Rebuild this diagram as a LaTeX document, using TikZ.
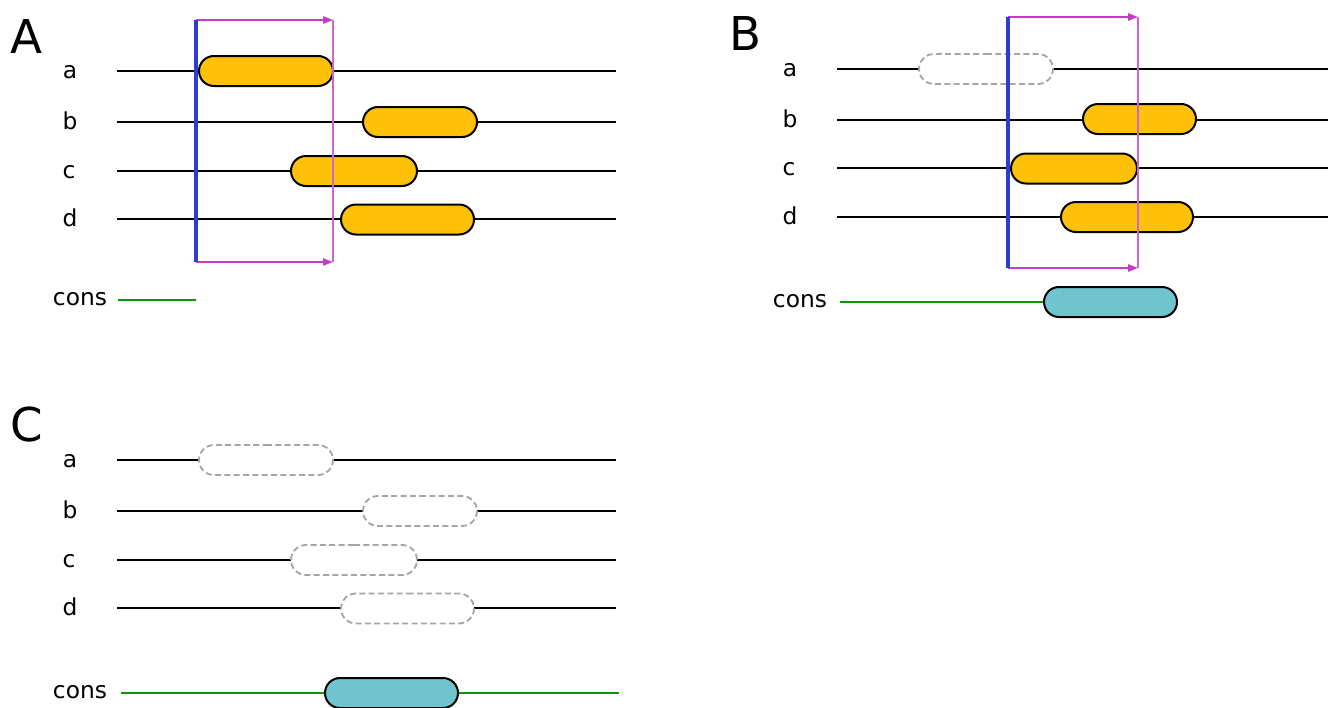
\documentclass[tikz,border=0pt]{standalone}
\usepackage{fontspec}
\setmainfont{DejaVu Sans}
\usetikzlibrary{arrows.meta,shapes.misc}

\definecolor{barYellow}{RGB}{255,193,7}
\definecolor{barCyan}{RGB}{112,196,206}
\definecolor{consGreen}{RGB}{10,150,10}
\definecolor{cutBlue}{RGB}{45,60,215}
\definecolor{winMag}{RGB}{195,60,195}
\definecolor{ghostGray}{RGB}{165,165,165}

\tikzset{every picture/.style={line width=0.75pt}}
\tikzset{
	track/.style={draw=black, line width=1.3pt},
	bar/.style={rounded rectangle, draw=black, line width=1.5pt, fill=barYellow,
		minimum height=22.5pt, minimum width={#1*0.75pt}, inner sep=0pt},
	ghost/.style={rounded rectangle, draw=ghostGray, dash pattern=on 4.5pt off 2.5pt, line width=1.4pt, fill=white,
		minimum height=22.5pt, minimum width={#1*0.75pt}, inner sep=0pt},
	consbar/.style={bar=#1, fill=barCyan},
	lbl/.style={anchor=base, inner sep=0pt, font=\fontsize{17.5}{20}\selectfont},
	panel/.style={anchor=base, inner sep=0pt, font=\fontsize{35}{40}\selectfont},
	consline/.style={draw=consGreen, line width=1.7pt},
	cut/.style={draw=cutBlue, line width=2.4pt},
	win/.style={draw=winMag, line width=1.3pt, -{Triangle[length=7.5pt,width=5.5pt]}},
	winedge/.style={draw=winMag!80, line width=0.9pt}
}

\begin{document}
\begin{tikzpicture}[x=0.75pt,y=0.75pt,yscale=-1,xscale=1]
	\useasboundingbox (0,0) rectangle (1328,707);

	% ---------------- panel A ----------------
	\node[panel] (pA) at (26,53) {A};
	\node[lbl] (aA) at (70,78) {a};
	\node[lbl] (bA) at (70,129) {b};
	\node[lbl] (cA) at (69,178) {c};
	\node[lbl] (dA) at (70,226) {d};
	\node[lbl] (consA) at (80,305) {cons};

	\coordinate (aAs) at (117,71);  \coordinate (aAe) at (616,71);
	\coordinate (bAs) at (117,122); \coordinate (bAe) at (616,122);
	\coordinate (cAs) at (117,171); \coordinate (cAe) at (616,171);
	\coordinate (dAs) at (117,219); \coordinate (dAe) at (616,219);
	\coordinate (gAs) at (118,300); \coordinate (gAe) at (196,300);

	%Straight Lines
	\draw[track] (aAs) -- (aAe);
	\draw[track] (bAs) -- (bAe);
	\draw[track] (cAs) -- (cAe);
	\draw[track] (dAs) -- (dAe);
	\draw[consline] (gAs) -- (gAe);

	% bars
	\node[bar=134] (aAbar) at (266,71) {};
	\node[bar=114] (bAbar) at (420,122) {};
	\node[bar=126] (cAbar) at (354,171) {};
	\node[bar=133] (dAbar) at (407.5,219.5) {};

	% window
	\coordinate (wAtl) at (196,20);  \coordinate (wAtr) at (333,20);
	\coordinate (wAbl) at (196,262); \coordinate (wAbr) at (333,262);
	\draw[winedge] (wAtr) -- (wAbr);
	\draw[win] (wAtl) -- (wAtr);
	\draw[win] (wAbl) -- (wAbr);
	\draw[cut] (wAtl) -- (wAbl);

	% ---------------- panel B ----------------
	\node[panel] (pB) at (745,50) {B};
	\node[lbl] (aB) at (790,76) {a};
	\node[lbl] (bB) at (790,127) {b};
	\node[lbl] (cB) at (789,175) {c};
	\node[lbl] (dB) at (790,224) {d};
	\node[lbl] (consB) at (800,307) {cons};

	\coordinate (aBs) at (837,69);  \coordinate (aBe) at (1328,69);
	\coordinate (bBs) at (837,120); \coordinate (bBe) at (1328,120);
	\coordinate (cBs) at (837,168); \coordinate (cBe) at (1328,168);
	\coordinate (dBs) at (837,217); \coordinate (dBe) at (1328,217);
	\coordinate (gBs) at (840,302);

	%Straight Lines
	\draw[track] (aBs) -- (aBe);
	\draw[track] (bBs) -- (bBe);
	\draw[track] (cBs) -- (cBe);
	\draw[track] (dBs) -- (dBe);

	% bars
	\node[ghost=134] (aBbar) at (986,69) {};
	\node[bar=113] (bBbar) at (1139.5,119) {};
	\node[bar=126] (cBbar) at (1074,168.5) {};
	\node[bar=132] (dBbar) at (1127,217) {};
	\node[consbar=133] (gBbar) at (1110.5,302) {};
	\draw[consline] (gBs) -- (gBbar.west);

	% window
	\coordinate (wBtl) at (1008,17);  \coordinate (wBtr) at (1138,17);
	\coordinate (wBbl) at (1008,268); \coordinate (wBbr) at (1138,268);
	\draw[winedge] (wBtr) -- (wBbr);
	\draw[win] (wBtl) -- (wBtr);
	\draw[win] (wBbl) -- (wBbr);
	\draw[cut] (wBtl) -- (wBbl);

	% ---------------- panel C ----------------
	\node[panel] (pC) at (27,441) {C};
	\node[lbl] (aC) at (70,467) {a};
	\node[lbl] (bC) at (70,518) {b};
	\node[lbl] (cC) at (69,567) {c};
	\node[lbl] (dC) at (70,615) {d};
	\node[lbl] (consC) at (80,698) {cons};

	\coordinate (aCs) at (117,460); \coordinate (aCe) at (616,460);
	\coordinate (bCs) at (117,511); \coordinate (bCe) at (616,511);
	\coordinate (cCs) at (117,560); \coordinate (cCe) at (616,560);
	\coordinate (dCs) at (117,608); \coordinate (dCe) at (616,608);
	\coordinate (gCs) at (121,693); \coordinate (gCe) at (619,693);

	%Straight Lines
	\draw[track] (aCs) -- (aCe);
	\draw[track] (bCs) -- (bCe);
	\draw[track] (cCs) -- (cCe);
	\draw[track] (dCs) -- (dCe);
	\draw[consline] (gCs) -- (gCe);

	% bars
	\node[ghost=134] (aCbar) at (266,460) {};
	\node[ghost=114] (bCbar) at (420,511) {};
	\node[ghost=126] (cCbar) at (354,560) {};
	\node[ghost=133] (dCbar) at (407.5,608.5) {};
	\node[consbar=133] (gCbar) at (391.5,693) {};

\end{tikzpicture}
\end{document}
